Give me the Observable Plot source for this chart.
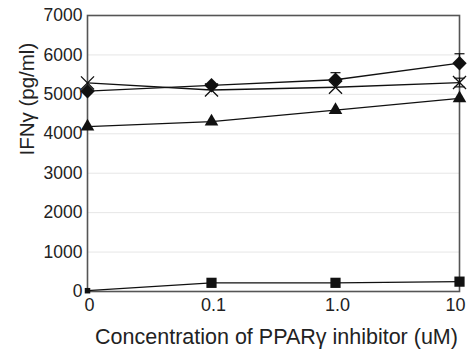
<!DOCTYPE html>
<html><head><meta charset="utf-8">
<script src="https://cdn.jsdelivr.net/npm/d3@7"></script>
<script src="https://cdn.jsdelivr.net/npm/@observablehq/plot@0.6"></script>
<style>
body{margin:0;background:#fff;}
svg{font-family:"Liberation Sans",Arial,sans-serif;}
</style></head>
<body><div id="chart"></div>
<script>
const conc = ["0", "0.1", "1.0", "10"];
const yTicks = [0, 1000, 2000, 3000, 4000, 5000, 6000, 7000];
const diamond = [5080, 5230, 5370, 5790];
const diamondErr = [0, 40, 180, 240];
const cross = [5290, 5110, 5180, 5300];
const crossErr = [0, 0, 0, 110];
const triangle = [4180, 4310, 4600, 4900];
const square = [20, 220, 220, 250];
const xTitle = "Concentration of PPARγ inhibitor (uM)";
const yTitle = "IFNγ (pg/ml)";

const rows = (vals, err) => conc.map((c, i) => ({c, v: vals[i], e: err ? err[i] : 0}));
const dD = rows(diamond, diamondErr);
const dX = rows(cross, crossErr);
const dT = rows(triangle, null);
const dS = rows(square, null);

const capSym = {draw(ctx, size){ const w = 5; ctx.moveTo(-w, 0); ctx.lineTo(w, 0); }};

const errD = dD.filter(d => d.e > 0);
const errX = dX.filter(d => d.e > 0);

const chart = Plot.plot({
  width: 467, height: 360,
  marginLeft: 87, marginRight: 8, marginTop: 15, marginBottom: 69,
  style: {fontFamily: "'Liberation Sans', Arial, sans-serif", fontSize: "17px", color: "#222", background: "#fff"},
  x: {type: "point", domain: conc, padding: 0},
  y: {domain: [0, 7000]},
  marks: [
    Plot.gridY(yTicks, {stroke: "#e6e6e6", strokeOpacity: 1, strokeWidth: 1}),
    Plot.axisY(yTicks, {tickSize: 0, tickPadding: 5, tickFormat: d3.format("d"), fontSize: 17.5, label: null}),
    Plot.axisX(conc.slice(0, 3), {tickSize: 0, tickPadding: 7, dx: 2, fontSize: 18, label: null}),
    Plot.axisX(conc.slice(3), {tickSize: 0, tickPadding: 7, dx: -4, fontSize: 18, label: null}),
    Plot.text([xTitle], {text: d => d, frameAnchor: "bottom", lineAnchor: "middle", dy: 46, dx: 3, fontSize: 21.5, fill: "#222"}),
    Plot.text([yTitle], {text: d => d, frameAnchor: "left", rotate: -90, lineAnchor: "middle", dx: -60, dy: 2, fontSize: 20.5, fill: "#222"}),
    Plot.frame({stroke: "#555", strokeWidth: 1.6}),
    // error bars
    Plot.ruleX(errD, {x: "c", y1: "v", y2: d => d.v + d.e, stroke: "#111", strokeWidth: 1.2}),
    Plot.dot(errD, {x: "c", y: d => d.v + d.e, symbol: capSym, stroke: "#111", strokeWidth: 1.2}),
    Plot.ruleX(errX, {x: "c", y1: d => d.v - d.e, y2: d => d.v + d.e, stroke: "#111", strokeWidth: 1.2}),
    Plot.dot(errX, {x: "c", y: d => d.v + d.e, symbol: capSym, stroke: "#111", strokeWidth: 1.2}),
    Plot.dot(errX, {x: "c", y: d => d.v - d.e, symbol: capSym, stroke: "#111", strokeWidth: 1.2}),
    // lines
    Plot.line(dD, {x: "c", y: "v", stroke: "#111", strokeWidth: 1.3}),
    Plot.line(dX, {x: "c", y: "v", stroke: "#111", strokeWidth: 1.3}),
    Plot.line(dT, {x: "c", y: "v", stroke: "#111", strokeWidth: 1.3}),
    Plot.line(dS, {x: "c", y: "v", stroke: "#111", strokeWidth: 1.3}),
    // markers
    Plot.dot(dD, {x: "c", y: "v", symbol: "diamond2", r: 6.5, fill: "#111", stroke: "none"}),
    Plot.dot(dX, {x: "c", y: "v", symbol: "times", r: 6, stroke: "#111", strokeWidth: 1.3}),
    Plot.dot(dT, {x: "c", y: "v", symbol: "triangle2", r: 6.5, fill: "#111", stroke: "none"}),
    Plot.dot(dS.slice(1), {x: "c", y: "v", symbol: "square2", r: 6.5, fill: "#111", stroke: "none"}),
    Plot.dot(dS.slice(0, 1), {x: "c", y: "v", symbol: "square2", r: 3.5, fill: "#111", stroke: "none"})
  ]
});
document.getElementById("chart").appendChild(chart);
</script></body></html>
